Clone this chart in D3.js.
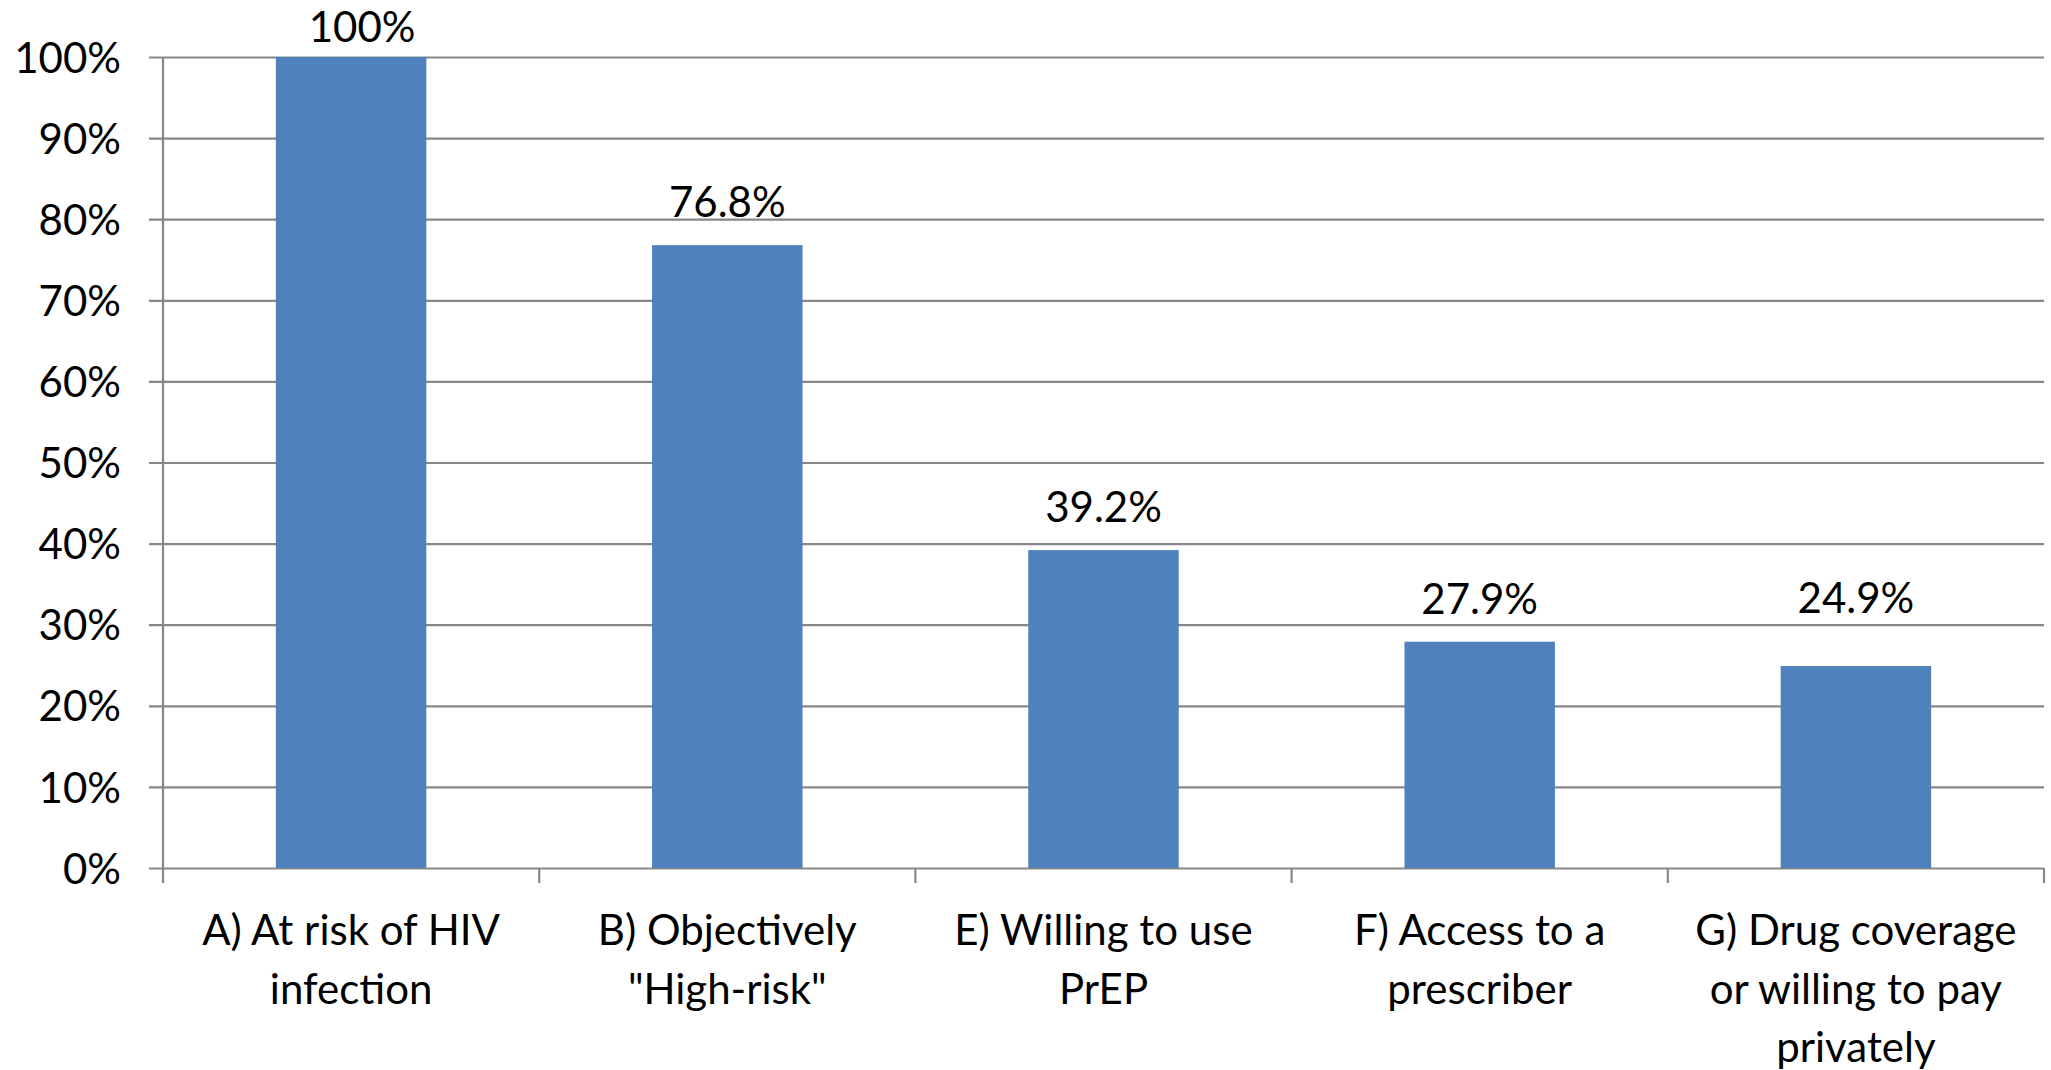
<!DOCTYPE html>
<html>
<head>
<meta charset="utf-8">
<script src="https://cdn.jsdelivr.net/npm/d3@7"></script>
<style>
  html, body { margin: 0; padding: 0; background: #fff; }
  svg text { font-family: Lato, "Open Sans", sans-serif; fill: #000; }
</style>
</head>
<body>
<svg id="chart"></svg>
<script>
// categories (line breaks as in the original)
const categories = [
    'A) At risk of HIV\ninfection',
    'B) Objectively\n"High-risk"',
    'E) Willing to use\nPrEP',
    'F) Access to a\nprescriber',
    'G) Drug coverage\nor willing to pay\nprivately'
]
const values = [100, 76.8, 39.2, 27.9, 24.9]
const valueLabels = ['100%', '76.8%', '39.2%', '27.9%', '24.9%']
const yTicks = [0, 10, 20, 30, 40, 50, 60, 70, 80, 90, 100]

// small manual nudges of the data labels, as placed in the original (px)
const labelNudgeX = [11, 0, 0, 0, 0]
const labelNudgeY = [0, 0, 0, 0, -25]

const width = 2051
const height = 1070
const margin = { top: 57, right: 7, bottom: 202, left: 163 }

const svg = d3.select('#chart')
    .attr('width', width)
    .attr('height', height)

const innerW = width - margin.left - margin.right
const innerH = height - margin.top - margin.bottom

const g = svg.append('g')
    .attr('transform', `translate(${margin.left},${margin.top})`)

const x = d3.scaleBand()
    .domain(categories)
    .range([0, innerW])
    .paddingInner(0.6)
    .paddingOuter(0.3)

const y = d3.scaleLinear()
    .domain([0, 100])
    .range([innerH, 0])

const gridColor = '#878787'

// gridlines + y ticks
const yAxis = g.append('g')
    .call(d3.axisLeft(y)
        .tickValues(yTicks)
        .tickSize(14)
        .tickPadding(28)
        .tickFormat(d => d + '%'))

yAxis.select('.domain').remove()
yAxis.selectAll('.tick line')
    .attr('stroke', gridColor)
    .attr('stroke-width', 2.2)
    .attr('x1', innerW)
    .attr('x2', -14)
yAxis.selectAll('.tick text')
    .attr('font-size', 42)
    .attr('dy', '0.36em')

// bars
g.selectAll('.bar')
    .data(values)
    .enter()
    .append('rect')
    .attr('class', 'bar')
    .attr('x', (d, i) => x(categories[i]))
    .attr('width', x.bandwidth())
    .attr('y', d => y(d))
    .attr('height', d => innerH - y(d))
    .attr('fill', '#4F81BD')

// vertical axis line
g.append('line')
    .attr('x1', 0).attr('x2', 0)
    .attr('y1', 0).attr('y2', innerH + 15)
    .attr('stroke', gridColor)
    .attr('stroke-width', 2.2)

// category separator ticks
const sepX = i => (i + 1) * innerW / categories.length
g.selectAll('.sep')
    .data(categories)
    .enter()
    .append('line')
    .attr('class', 'sep')
    .attr('x1', (d, i) => sepX(i))
    .attr('x2', (d, i) => sepX(i))
    .attr('y1', innerH).attr('y2', innerH + 15)
    .attr('stroke', gridColor)
    .attr('stroke-width', 2.2)

// value labels
g.selectAll('.val')
    .data(values)
    .enter()
    .append('text')
    .attr('class', 'val')
    .attr('x', (d, i) => x(categories[i]) + x.bandwidth() / 2 + labelNudgeX[i])
    .attr('y', (d, i) => Math.max(y(d) - 28, -15) + labelNudgeY[i])
    .attr('text-anchor', 'middle')
    .attr('font-size', 42)
    .text((d, i) => valueLabels[i])

// category labels
const catLabels = g.selectAll('.cat')
    .data(categories)
    .enter()
    .append('text')
    .attr('class', 'cat')
    .attr('text-anchor', 'middle')
    .attr('font-size', 42)
    .attr('transform', d => `translate(${x(d) + x.bandwidth() / 2},${innerH + 77})`)

catLabels.selectAll('tspan')
    .data(d => d.split('\n'))
    .enter()
    .append('tspan')
    .attr('x', 0)
    .attr('y', (d, i) => i * 58.5)
    .text(d => d)
</script>
</body>
</html>
